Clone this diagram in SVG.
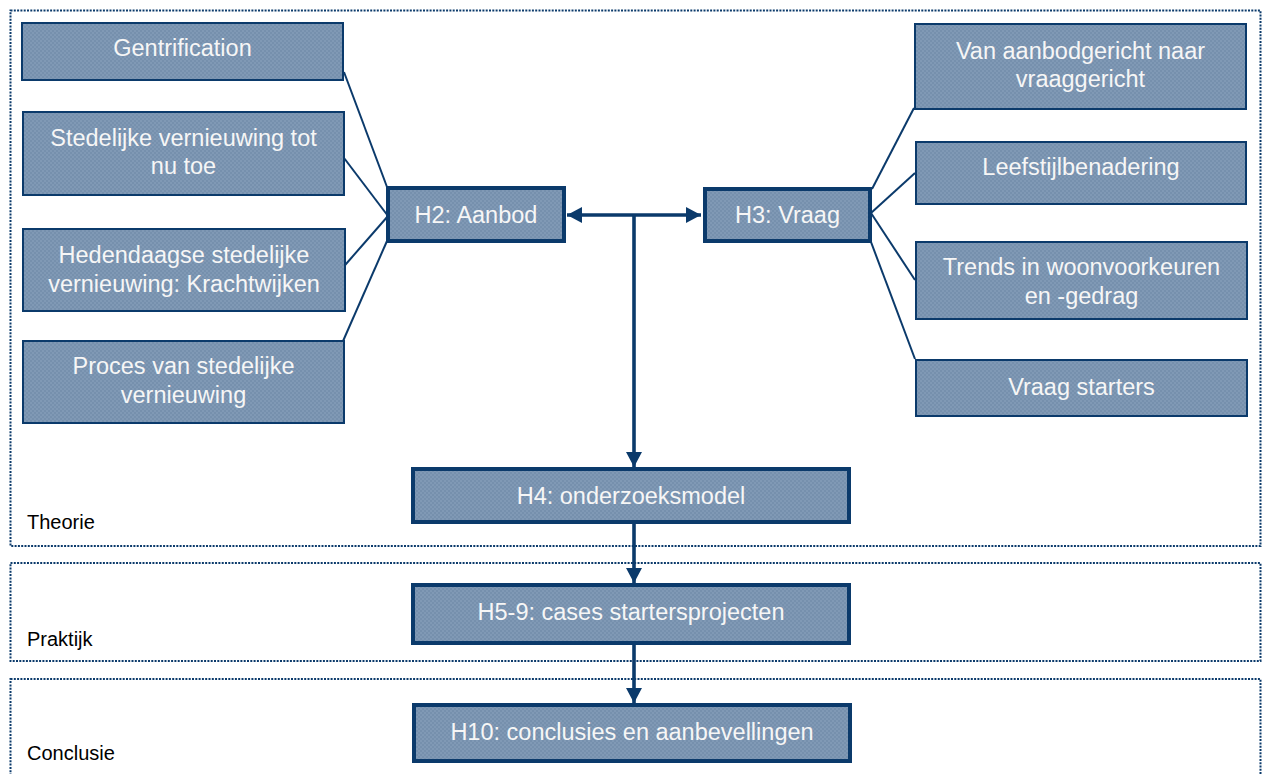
<svg xmlns="http://www.w3.org/2000/svg" width="1262" height="774" viewBox="0 0 1262 774">
<style>
.frame{fill:none;stroke:#0B3A6B;stroke-width:2;stroke-dasharray:2 1.3}
.box{fill:url(#chk);stroke:#0B3A6B;stroke-width:2}
.main{fill:url(#chk);stroke:#0B3A6B;stroke-width:4}
.t{font-family:"Liberation Sans",Arial,sans-serif;font-size:23.5px;fill:#F6F6F6;text-anchor:middle}
.lbl{font-family:"Liberation Sans",Arial,sans-serif;font-size:20px;fill:#000}
.c{fill:none;stroke:#0B3A6B;stroke-width:2}
.a{fill:none;stroke:#0B3A6B;stroke-width:3.6}
</style>
<defs>
<pattern id="chk" patternUnits="userSpaceOnUse" width="4" height="4">
<rect width="4" height="4" fill="#7690AD"/>
<rect width="2" height="2" fill="#8099B5"/>
<rect x="2" y="2" width="2" height="2" fill="#8099B5"/>
</pattern>
<marker id="ah" markerUnits="userSpaceOnUse" markerWidth="16" markerHeight="18" refX="15" refY="9" orient="auto-start-reverse">
<path d="M0,1 L15,9 L0,17 Z" fill="#0B3A6B"/>
</marker>
</defs>
<g id="frames">
<rect class="frame" x="10.5" y="10.5" width="1250" height="535.5"/>
<rect class="frame" x="10.5" y="563" width="1250" height="98"/>
<rect class="frame" x="10.5" y="679" width="1250" height="110"/>
<text class="lbl" x="27" y="529">Theorie</text>
<text class="lbl" x="27" y="646">Praktijk</text>
<text class="lbl" x="27" y="760">Conclusie</text>
</g>
<g id="connectors">
<line class="c" x1="344" y1="72" x2="387" y2="187"/>
<line class="c" x1="341" y1="154" x2="388" y2="216"/>
<line class="c" x1="339" y1="272" x2="388" y2="216"/>
<line class="c" x1="336" y1="357" x2="387" y2="241"/>
<line class="c" x1="914" y1="108" x2="872" y2="189"/>
<line class="c" x1="915" y1="173" x2="871" y2="213"/>
<line class="c" x1="871" y1="213" x2="915" y2="280"/>
<line class="c" x1="871" y1="242" x2="915" y2="359"/>
<line class="a" x1="567" y1="215" x2="701" y2="215" marker-start="url(#ah)" marker-end="url(#ah)"/>
<line class="a" x1="634" y1="215" x2="634" y2="467" marker-end="url(#ah)"/>
<line class="a" x1="634" y1="524" x2="634" y2="583" marker-end="url(#ah)"/>
<line class="a" x1="634" y1="645" x2="634" y2="703" marker-end="url(#ah)"/>
</g>
<g id="gentrification"><rect class="box" x="22" y="23" width="321" height="57"/><text class="t" x="182.5" y="56">Gentrification</text></g>
<g id="stedelijke"><rect class="box" x="23" y="112" width="321" height="83"/><text class="t" x="183.5" y="146">Stedelijke vernieuwing tot</text><text class="t" x="183.5" y="174">nu toe</text></g>
<g id="hedendaagse"><rect class="box" x="23" y="229" width="322" height="82"/><text class="t" x="184" y="263">Hedendaagse stedelijke</text><text class="t" x="184" y="291.5">vernieuwing: Krachtwijken</text></g>
<g id="proces"><rect class="box" x="23" y="341" width="321" height="82"/><text class="t" x="183.5" y="373.5">Proces van stedelijke</text><text class="t" x="183.5" y="402.5">vernieuwing</text></g>
<g id="h2"><rect class="main" x="388" y="188" width="176" height="53"/><text class="t" x="476" y="222.5">H2: Aanbod</text></g>
<g id="h3"><rect class="main" x="705" y="189" width="165" height="52"/><text class="t" x="787.5" y="222.5">H3: Vraag</text></g>
<g id="vanaanbod"><rect class="box" x="915" y="24" width="331" height="85"/><text class="t" x="1080.5" y="58.5">Van aanbodgericht naar</text><text class="t" x="1080.5" y="86.5">vraaggericht</text></g>
<g id="leefstijl"><rect class="box" x="916" y="142" width="330" height="62"/><text class="t" x="1081" y="175">Leefstijlbenadering</text></g>
<g id="trends"><rect class="box" x="916" y="242" width="331" height="77"/><text class="t" x="1081.5" y="275">Trends in woonvoorkeuren</text><text class="t" x="1081.5" y="303.5">en -gedrag</text></g>
<g id="vraagstarters"><rect class="box" x="916" y="360" width="331" height="56"/><text class="t" x="1081.5" y="395">Vraag starters</text></g>
<g id="h4"><rect class="main" x="413" y="469" width="436" height="53"/><text class="t" x="631" y="503.5">H4: onderzoeksmodel</text></g>
<g id="h5"><rect class="main" x="413" y="585" width="436" height="58"/><text class="t" x="631" y="620">H5-9: cases startersprojecten</text></g>
<g id="h10"><rect class="main" x="414" y="705" width="436" height="56"/><text class="t" x="632" y="740">H10: conclusies en aanbevellingen</text></g>
</svg>
